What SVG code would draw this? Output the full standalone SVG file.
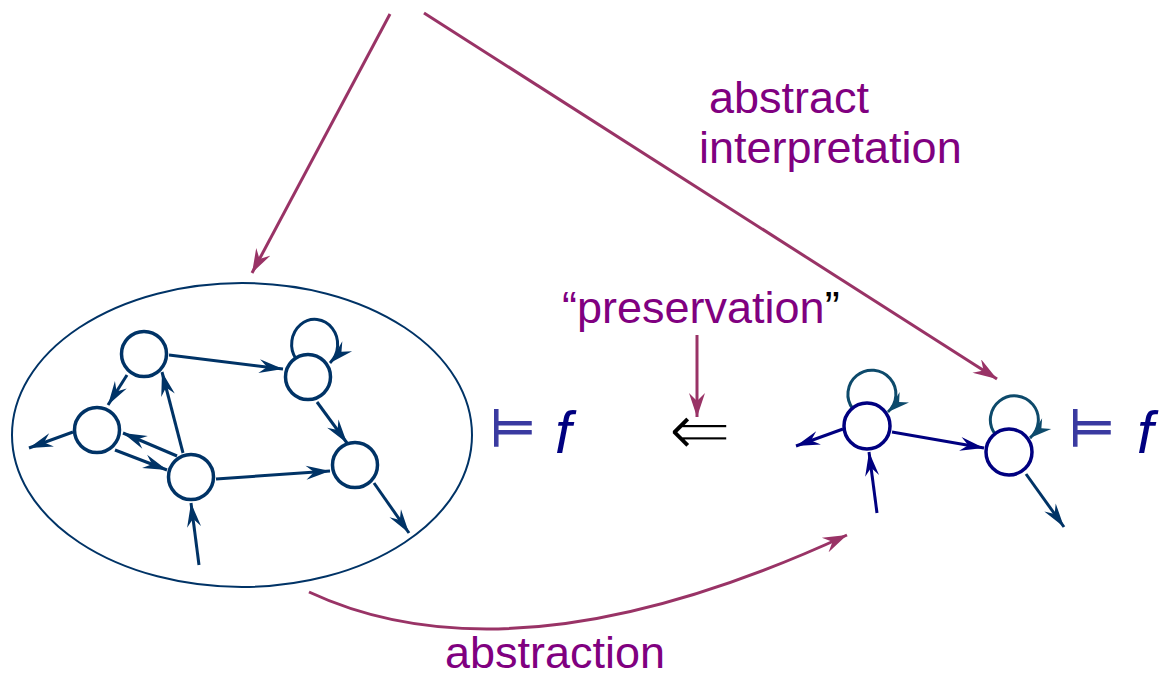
<svg xmlns="http://www.w3.org/2000/svg" width="1159" height="678" viewBox="0 0 1159 678">
<style>
.lbl{font-family:"Liberation Sans",Arial,sans-serif;font-size:45px;fill:#800080}
.node{fill:#fff;stroke:#003366;stroke-width:3.5}
.noder{fill:#fff;stroke:#000080;stroke-width:3.5}
.e{fill:none;stroke:#003366;stroke-width:3}
.en{fill:none;stroke:#000080;stroke-width:3}
.el{fill:none;stroke:#0d4a6b;stroke-width:3}
.p{fill:none;stroke:#993366;stroke-width:3}
.sym{font-family:"DejaVu Sans",sans-serif;fill:#3a3aa0;stroke:#3a3aa0;stroke-width:1.3}
.f{font-family:"Liberation Sans",Arial,sans-serif;font-style:italic;fill:#000080}
</style>
<defs>
<marker id="ab" viewBox="-25 -8 26 16" refX="0" refY="0" markerWidth="26" markerHeight="16" markerUnits="userSpaceOnUse" orient="auto"><path d="M0,0 L-24,-7 L-16,0 L-24,7 Z" fill="#003366"/></marker>
<marker id="an" viewBox="-25 -8 26 16" refX="0" refY="0" markerWidth="26" markerHeight="16" markerUnits="userSpaceOnUse" orient="auto"><path d="M0,0 L-24,-7 L-16,0 L-24,7 Z" fill="#000080"/></marker>
<marker id="al" viewBox="-25 -8 26 16" refX="0" refY="0" markerWidth="26" markerHeight="16" markerUnits="userSpaceOnUse" orient="auto"><path d="M0,0 L-22,-7 L-15,0 L-22,7 Z" fill="#0d4a6b"/></marker>
<marker id="ap" viewBox="-25 -8 26 16" refX="0" refY="0" markerWidth="26" markerHeight="16" markerUnits="userSpaceOnUse" orient="auto"><path d="M0,0 L-24,-8 L-16,0 L-24,8 Z" fill="#993366"/></marker>
</defs>

<g id="concrete-set">
<ellipse cx="242" cy="435" rx="230" ry="152" fill="none" stroke="#003366" stroke-width="2"/>
</g>

<g id="connectors">
<!-- left graph -->
<line class="e" x1="169" y1="355" x2="283" y2="369" marker-end="url(#ab)"/>
<line class="e" x1="127" y1="375" x2="108" y2="405" marker-end="url(#ab)"/>
<line class="e" x1="73" y1="432" x2="29" y2="448" marker-end="url(#ab)"/>
<line class="e" x1="115" y1="450" x2="167" y2="470" marker-end="url(#ab)"/>
<line class="e" x1="177" y1="456" x2="123" y2="433" marker-end="url(#ab)"/>
<line class="e" x1="183" y1="453" x2="162" y2="372" marker-end="url(#ab)"/>
<line class="e" x1="216" y1="479" x2="330" y2="471" marker-end="url(#ab)"/>
<line class="e" x1="317" y1="402" x2="347" y2="443" marker-end="url(#ab)"/>
<line class="e" x1="374" y1="483" x2="409" y2="533" marker-end="url(#ab)"/>
<line class="e" x1="199" y1="565" x2="191" y2="503" marker-end="url(#ab)"/>
<path class="e" d="M296,359 A23,25 0 1 1 330,363" marker-end="url(#ab)"/>
<!-- right graph -->
<line class="en" x1="843" y1="429" x2="796" y2="446" marker-end="url(#an)"/>
<line class="en" x1="892" y1="432" x2="984" y2="448" marker-end="url(#an)"/>
<line class="en" x1="877" y1="513" x2="869" y2="452" marker-end="url(#an)"/>
<line class="e" x1="1026" y1="474" x2="1064" y2="527" marker-end="url(#ab)"/>
<path class="el" d="M853,409 A24,24 0 1 1 888,412" marker-end="url(#al)"/>
<path class="el" d="M995,434 A24,24 0 1 1 1030,438" marker-end="url(#al)"/>
<!-- purple arrows -->
<line class="p" x1="390" y1="14" x2="252" y2="273" marker-end="url(#ap)"/>
<line class="p" x1="424" y1="13" x2="997" y2="379" marker-end="url(#ap)"/>
<line class="p" x1="697" y1="335" x2="697" y2="417" marker-end="url(#ap)"/>
<path class="p" d="M309,592 Q515,688 847,535" marker-end="url(#ap)"/>
</g>

<g id="left-nodes">
<circle class="node" cx="144" cy="354" r="22.5"/>
<circle class="node" cx="308" cy="377" r="22.5"/>
<circle class="node" cx="97" cy="430" r="22.5"/>
<circle class="node" cx="191" cy="477" r="22.5"/>
<circle class="node" cx="355" cy="465" r="22.5"/>
</g>

<g id="right-nodes">
<circle class="noder" cx="867" cy="426" r="23"/>
<circle class="noder" cx="1009" cy="452" r="23"/>
</g>

<g id="labels">
<text class="lbl" x="709" y="113">abstract</text>
<text class="lbl" x="699" y="163">interpretation</text>
<text class="lbl" x="562" y="323">“preservation<tspan fill="#000">”</tspan></text>
<text class="lbl" x="445" y="668">abstraction</text>
<text x="668" y="456" font-family="DejaVu Sans,sans-serif" font-size="76" fill="#000" stroke="#fff" stroke-width="2.2">⇐</text>
<text class="sym" x="490" y="446" font-size="52">⊨</text>
<text class="f" x="555" y="453" font-size="59">f</text>
<text class="sym" x="1069" y="446" font-size="52">⊨</text>
<text class="f" x="1137" y="453" font-size="59">f</text>
</g>
</svg>
